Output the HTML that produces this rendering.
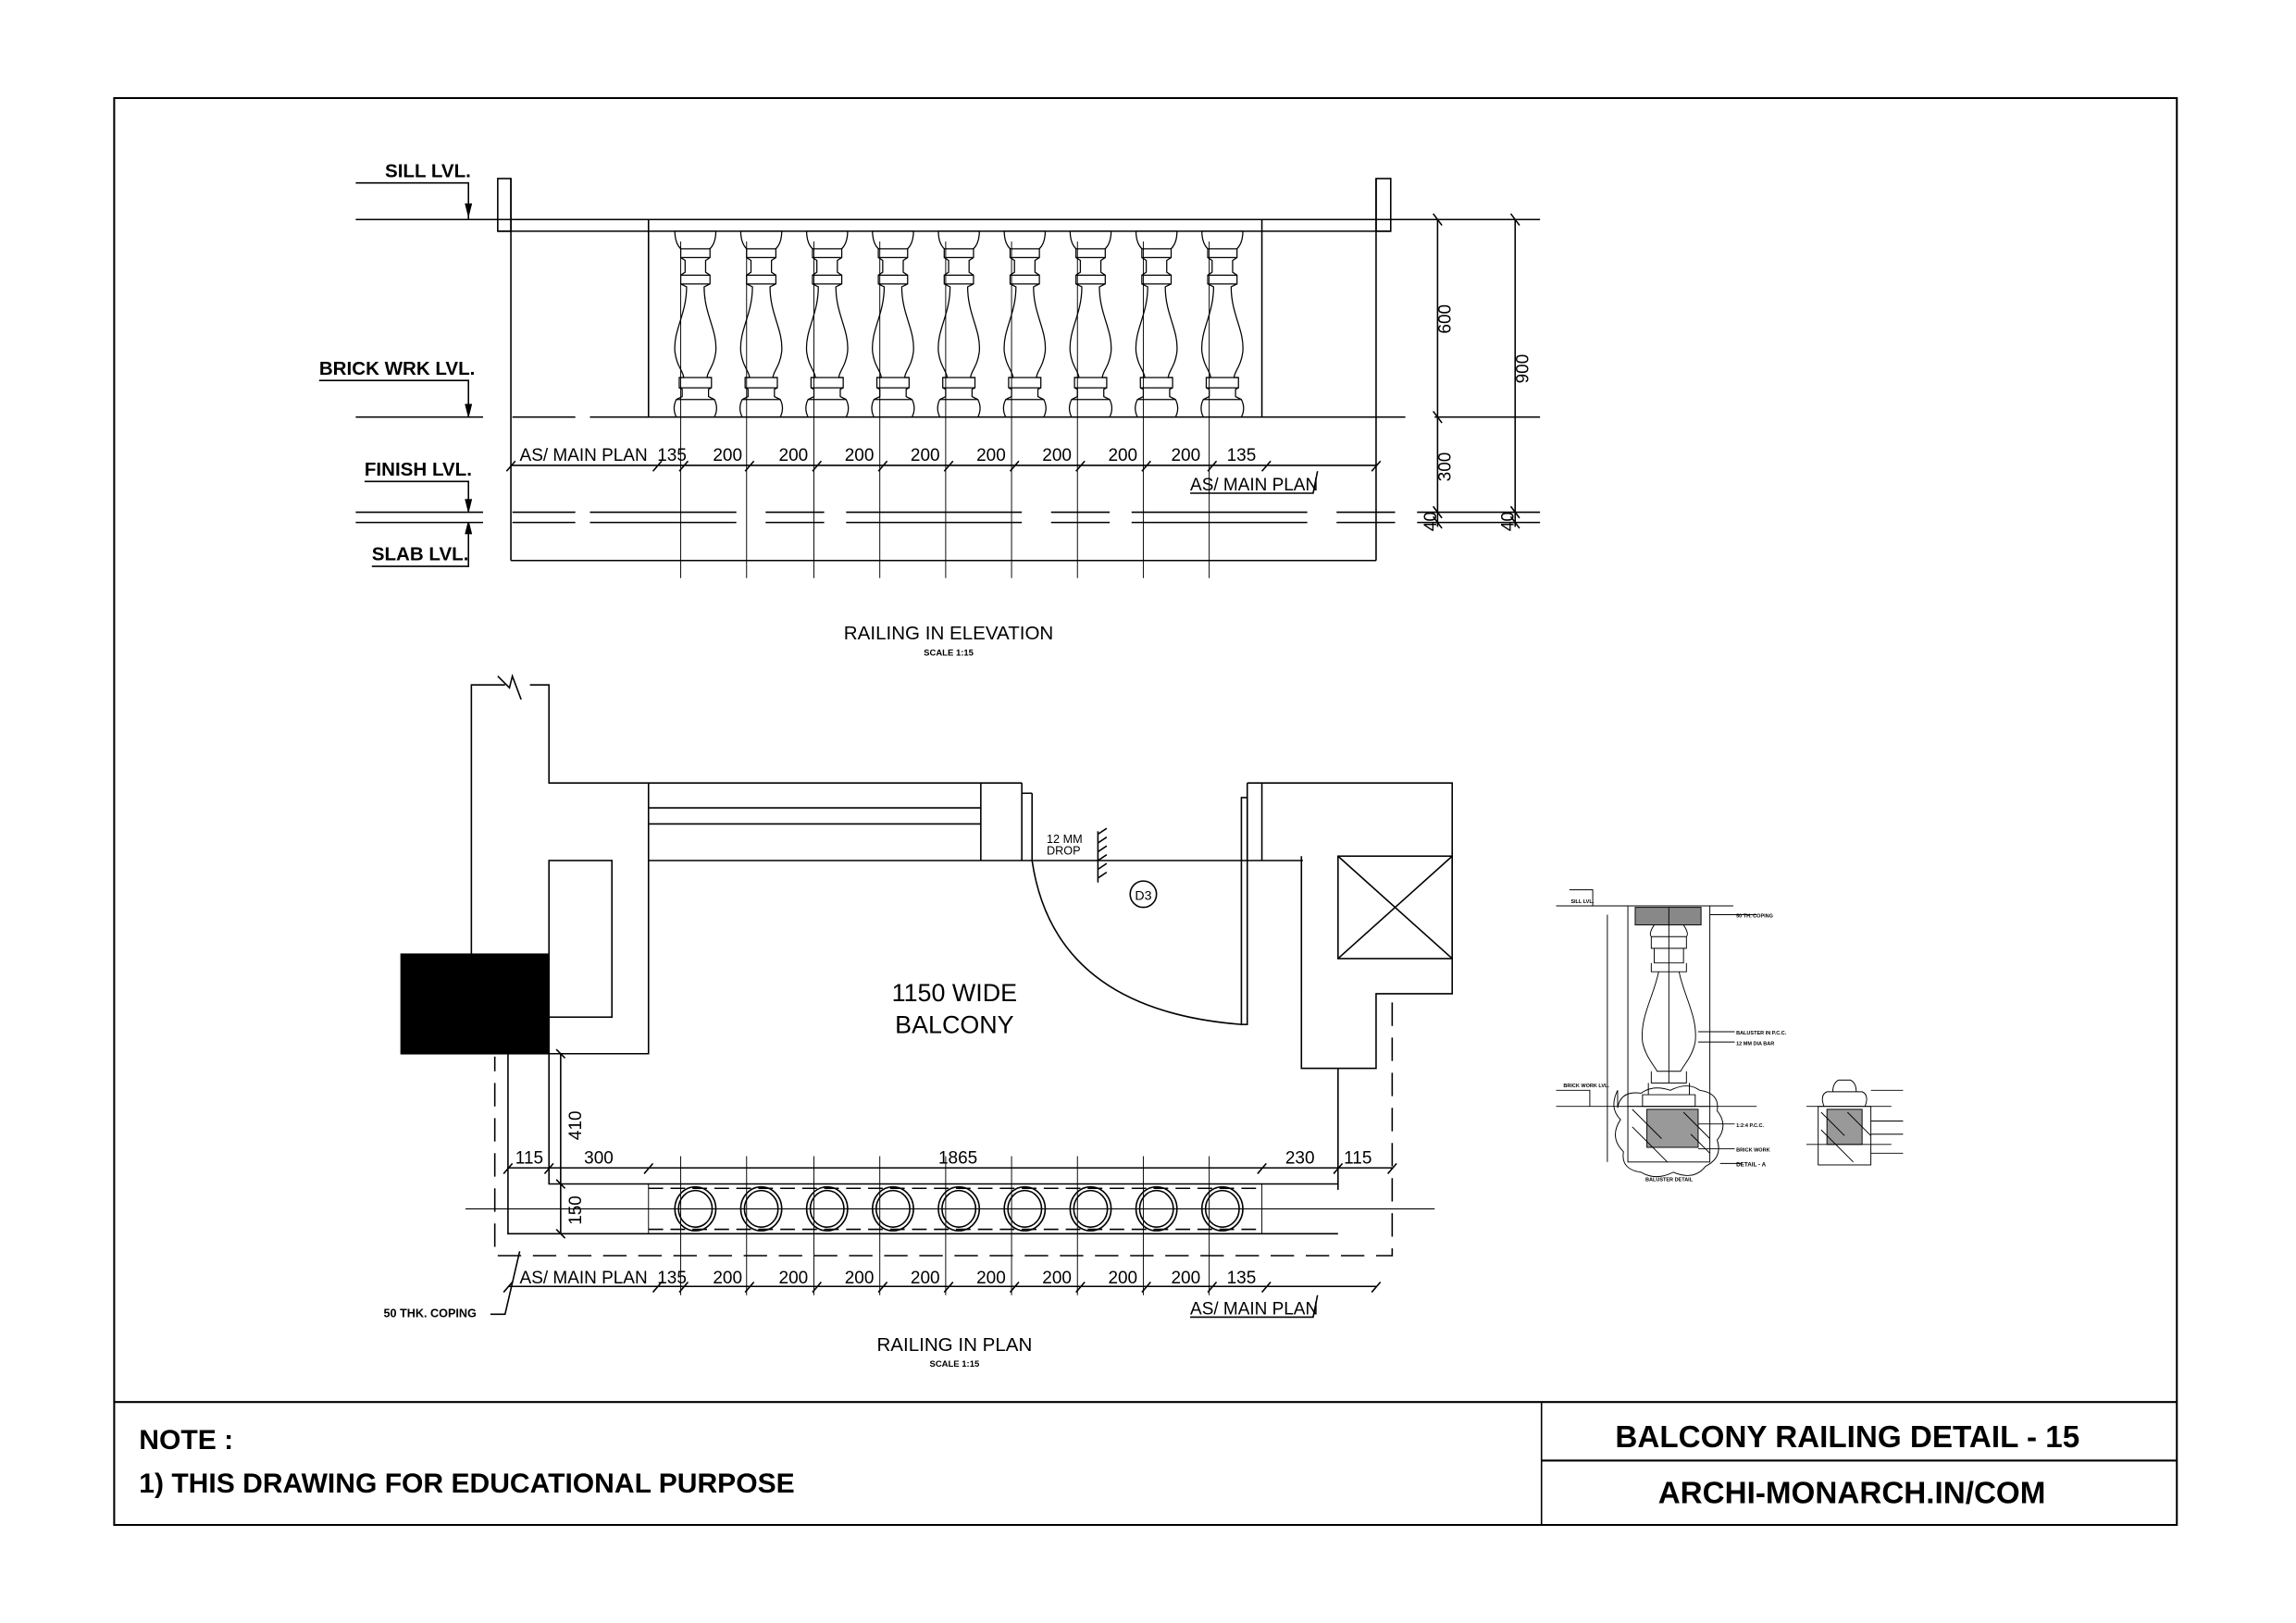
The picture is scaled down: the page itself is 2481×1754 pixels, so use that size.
<!DOCTYPE html>
<html><head><meta charset="utf-8"><style>
html,body{margin:0;padding:0;background:#fff;}
svg{display:block;}
text{font-family:"Liberation Sans Narrow","Liberation Sans",sans-serif;fill:#000;}
.b{font-weight:bold;}
</style></head><body>
<svg width="2481" height="1754" viewBox="0 0 1568.4 1109" preserveAspectRatio="none" xmlns="http://www.w3.org/2000/svg">
<defs>
<g id="bal" fill="none" stroke="#000" stroke-width="0.8">
<path d="M-14,158 Q-14,166 -10,170 L-10,176 L-7,178 L-7,186 L-10,188 L-10,194 L-6,196 C-6,215 -15,225 -14,240 C-13,250 -8,254 -8,258 L-11,258 L-11,265 L-9,266 L-9,271 L-13,273 Q-16,279 -13,285 L13,285 Q16,279 13,273 L9,271 L9,266 L11,265 L11,258 L8,258 C8,254 13,250 14,240 C15,225 6,215 6,196 L10,194 L10,188 L7,186 L7,178 L10,176 L10,170 Q14,166 14,158 Z"/>
<path d="M-10,170H10M-10,176H10M-10,188H10M-10,194H10M-11,258H11M-11,265H11M-13,273H13"/>
</g>
<g id="cir" fill="none" stroke="#000" stroke-width="1"><ellipse rx="14" ry="15"/><ellipse rx="11.5" ry="12.5"/></g>
</defs>
<g fill="none" stroke="#000" stroke-width="1">
<rect x="78" y="67" width="1409" height="975" stroke-width="1.3"/>
<line x1="78" y1="958" x2="1487" y2="958" stroke-width="1.3"/>
<line x1="1053" y1="958" x2="1053" y2="1042"/>
<line x1="1053" y1="998" x2="1487" y2="998" stroke-width="1.3"/>

<line x1="243" y1="150" x2="1052" y2="150"/>
<path d="M243,285H330M350,285H393M403,285H960M980,285H1052"/>
<path d="M243,350H330M350,350H393M403,350H1052M243,357H330M350,357H393M403,357H1052" stroke-dasharray="100,20,40,15,120,20,40,15,120,20,40,15,200"/>
<rect x="340" y="122" width="9" height="36"/>
<rect x="940" y="122" width="10" height="36"/>
<line x1="340" y1="158" x2="950" y2="158"/>
<line x1="349" y1="122" x2="349" y2="383"/>
<line x1="940" y1="122" x2="940" y2="383"/>
<line x1="349" y1="383" x2="940" y2="383"/>
<line x1="443" y1="150" x2="443" y2="285"/>
<line x1="862" y1="150" x2="862" y2="285"/>
<g stroke-width="0.6">
<path d="M465,165V395M510,165V395M556,165V395M601,165V395M646,165V395M691,165V395M736,165V395M781,165V395M826,165V395"/>
</g>
<use href="#bal" x="475"/><use href="#bal" x="520"/><use href="#bal" x="565"/><use href="#bal" x="610"/><use href="#bal" x="655"/><use href="#bal" x="700"/><use href="#bal" x="745"/><use href="#bal" x="790"/><use href="#bal" x="835"/>
<line x1="349" y1="318" x2="940" y2="318"/>
<path d="M346,322l6,-7M446,322l6,-7M464,322l6,-7M509,322l6,-7M555,322l6,-7M600,322l6,-7M645,322l6,-7M690,322l6,-7M735,322l6,-7M780,322l6,-7M825,322l6,-7M862,322l6,-7M937,322l6,-7"/>
<path d="M813,337H897L900,322"/>
<line x1="982" y1="150" x2="982" y2="360"/>
<line x1="1035" y1="150" x2="1035" y2="360"/>
<path d="M979,146l6,8M1032,146l6,8M979,281l6,8M979,346l6,8M979,353l6,8M1032,346l6,8M1032,353l6,8"/>
<path d="M243,125H320V150M218,260H320V285M249,329H320V350M254,387H320V357"/>
<path d="M318,139l2,8 2,-8M318,276l2,8 2,-8M318,341l2,8 2,-8M318,365l2,-8 2,8" fill="#000"/>

<path d="M322,655V468H345M362,468H375V535H698"/>
<path d="M340,462l8,8 2,-8 6,16"/>
<rect x="274" y="652" width="101" height="68" fill="#000"/>
<path d="M375,720H443V535"/>
<rect x="375" y="588" width="43" height="107"/>
<path d="M443,552H670M443,563H670M443,588H890"/>
<path d="M670,535V588M698,535V588M705,542V588M698,542h7"/>
<path d="M705,588 Q720,690 848,700"/>
<rect x="848" y="545" width="4" height="155"/>
<path d="M852,535V588M862,535V588M852,535H862"/>
<path d="M862,535H992V679H940V730H914V813M889,585V730H914"/>
<rect x="914" y="585" width="78" height="70"/>
<path d="M914,585L992,655M992,585L914,655"/>
<path d="M951,685V858H338V722" stroke-dasharray="16,8"/>
<path d="M347,720V843H914M375,720V809H914"/>
<path d="M443,812H862M443,840H862" stroke-dasharray="10,5"/>
<line x1="318" y1="826" x2="980" y2="826" stroke-width="0.7"/>
<g stroke-width="0.6"><path d="M465,790V885M510,790V885M556,790V885M601,790V885M646,790V885M691,790V885M736,790V885M781,790V885M826,790V885M443,809V843M862,809V843"/></g>
<use href="#cir" x="475" y="826"/><use href="#cir" x="520" y="826"/><use href="#cir" x="565" y="826"/><use href="#cir" x="610" y="826"/><use href="#cir" x="655" y="826"/><use href="#cir" x="700" y="826"/><use href="#cir" x="745" y="826"/><use href="#cir" x="790" y="826"/><use href="#cir" x="835" y="826"/>
<line x1="383" y1="720" x2="383" y2="843"/>
<path d="M380,717l6,6M380,806l6,6M380,840l6,6"/>
<line x1="347" y1="798" x2="951" y2="798"/>
<path d="M344,802l6,-7M372,802l6,-7M440,802l6,-7M859,802l6,-7M911,802l6,-7M948,802l6,-7"/>
<line x1="347" y1="879" x2="940" y2="879"/>
<path d="M344,883l6,-7M446,883l6,-7M464,883l6,-7M509,883l6,-7M555,883l6,-7M600,883l6,-7M645,883l6,-7M690,883l6,-7M735,883l6,-7M780,883l6,-7M825,883l6,-7M862,883l6,-7M937,883l6,-7"/>
<path d="M813,900H897L900,885"/>
<path d="M335,898H345L355,855"/>
<line x1="750" y1="568" x2="750" y2="603"/>
<path d="M750,570l6,-4M750,576l6,-4M750,582l6,-4M750,588l6,-4M750,594l6,-4M750,600l6,-4"/>
<circle cx="781" cy="611" r="9"/>

<g stroke-width="0.6">
<path d="M1063,619H1184M1063,756H1200M1072,608H1088V619M1063,745H1086V756"/>
<rect x="1112" y="619" width="56" height="175"/>
<rect x="1117" y="620" width="45" height="12" fill="#888"/>
<path d="M1130,632 q-4,6 -2,8h24q2,-2 -2,-8M1128,640v8h24v-8M1130,648v10h20v-10M1128,658v6h24v-6"/>
<path d="M1133,664 C1130,680 1120,695 1122,712 C1124,722 1130,728 1132,732 H1148 C1150,728 1156,722 1158,712 C1160,695 1150,680 1147,664"/>
<path d="M1128,732v8h24v-8M1126,740v8h28v-8M1122,748h36v8h-36z"/>
<rect x="1125" y="758" width="35" height="26" fill="#999"/>
<path d="M1112,756H1168M1115,758l20,20M1115,770l24,24M1150,760l18,18M1155,775l13,13"/>
<path d="M1105,745 q-6,12 2,20 q-8,12 2,22 q-2,12 12,14 q10,6 22,0 q14,6 22,-4 q12,-6 8,-18 q8,-10 0,-20 q2,-12 -12,-14 q-8,-6 -20,0 q-12,-4 -20,2 q-14,-2 -16,10z"/>
<path d="M1140,620V740M1168,625H1200M1160,705H1185M1160,712H1185M1160,768H1185M1160,785H1185M1175,795H1190M1098,625V794"/>
<rect x="1242" y="756" width="36" height="40"/>
<rect x="1248" y="758" width="24" height="24" fill="#999"/>
<path d="M1246,756q-3,-8 2,-10h24q5,2 2,10M1252,746 q0,-6 4,-8h8q4,2 4,8M1234,756H1292M1234,782H1292M1278,745H1300M1278,766H1300M1278,775H1300M1278,788H1300M1244,760l16,16M1244,772l22,22M1262,760l16,16"/>
</g>
</g>

<g class="b" font-size="13">
<text x="263" y="121">SILL LVL.</text>
<text x="218" y="256">BRICK WRK LVL.</text>
<text x="249" y="325">FINISH LVL.</text>
<text x="254" y="383">SLAB LVL.</text>
</g>
<g font-size="12">
<text x="355" y="315">AS/ MAIN PLAN</text>
<text x="449" y="315">135</text>
<text x="487" y="315">200</text><text x="532" y="315">200</text><text x="577" y="315">200</text><text x="622" y="315">200</text><text x="667" y="315">200</text><text x="712" y="315">200</text><text x="757" y="315">200</text><text x="800" y="315">200</text>
<text x="838" y="315">135</text>
<text x="813" y="335">AS/ MAIN PLAN</text>
<text transform="translate(991,228) rotate(-90)">600</text>
<text transform="translate(1044,262) rotate(-90)">900</text>
<text transform="translate(991,329) rotate(-90)">300</text>
<text transform="translate(981,363) rotate(-90)">40</text>
<text transform="translate(1034,363) rotate(-90)">40</text>
<text x="355" y="877">AS/ MAIN PLAN</text>
<text x="449" y="877">135</text>
<text x="487" y="877">200</text><text x="532" y="877">200</text><text x="577" y="877">200</text><text x="622" y="877">200</text><text x="667" y="877">200</text><text x="712" y="877">200</text><text x="757" y="877">200</text><text x="800" y="877">200</text>
<text x="838" y="877">135</text>
<text x="813" y="898">AS/ MAIN PLAN</text>
<text x="352" y="795">115</text>
<text x="399" y="795">300</text>
<text x="641" y="795">1865</text>
<text x="878" y="795">230</text>
<text x="918" y="795">115</text>
<text transform="translate(397,779) rotate(-90)">410</text>
<text transform="translate(397,837) rotate(-90)">150</text>
</g>
<text x="648" y="437" font-size="13" text-anchor="middle">RAILING IN ELEVATION</text>
<text x="648" y="448" font-size="6" class="b" text-anchor="middle">SCALE 1:15</text>
<text x="652" y="923" font-size="13" text-anchor="middle">RAILING IN PLAN</text>
<text x="652" y="934" font-size="6" class="b" text-anchor="middle">SCALE 1:15</text>
<text x="262" y="900" font-size="8" class="b">50 THK. COPING</text>
<text x="652" y="684" font-size="17" text-anchor="middle">1150 WIDE</text>
<text x="652" y="706" font-size="17" text-anchor="middle">BALCONY</text>
<text x="715" y="576" font-size="8">12 MM</text>
<text x="715" y="584" font-size="8">DROP</text>
<text x="781" y="615" font-size="9" text-anchor="middle">D3</text>
<g font-size="3.5" class="b">
<text x="1073" y="617">SILL LVL.</text><text x="1068" y="743">BRICK WORK LVL.</text>
<text x="1186" y="627">50 TH. COPING</text><text x="1186" y="707">BALUSTER IN P.C.C.</text><text x="1186" y="714">12 MM DIA BAR</text>
<text x="1186" y="770">1:2:4 P.C.C.</text><text x="1186" y="787">BRICK WORK</text><text x="1186" y="797" font-size="4">DETAIL - A</text>
<text x="1124" y="807">BALUSTER DETAIL</text>
</g>
<g class="b" font-size="19">
<text x="95" y="990">NOTE :</text>
<text x="95" y="1020">1) THIS DRAWING FOR EDUCATIONAL PURPOSE</text>
<text x="1262" y="989" text-anchor="middle" font-size="21">BALCONY RAILING DETAIL - 15</text>
<text x="1265" y="1027" text-anchor="middle" font-size="21">ARCHI-MONARCH.IN/COM</text>
</g>
</svg>
</body></html>
